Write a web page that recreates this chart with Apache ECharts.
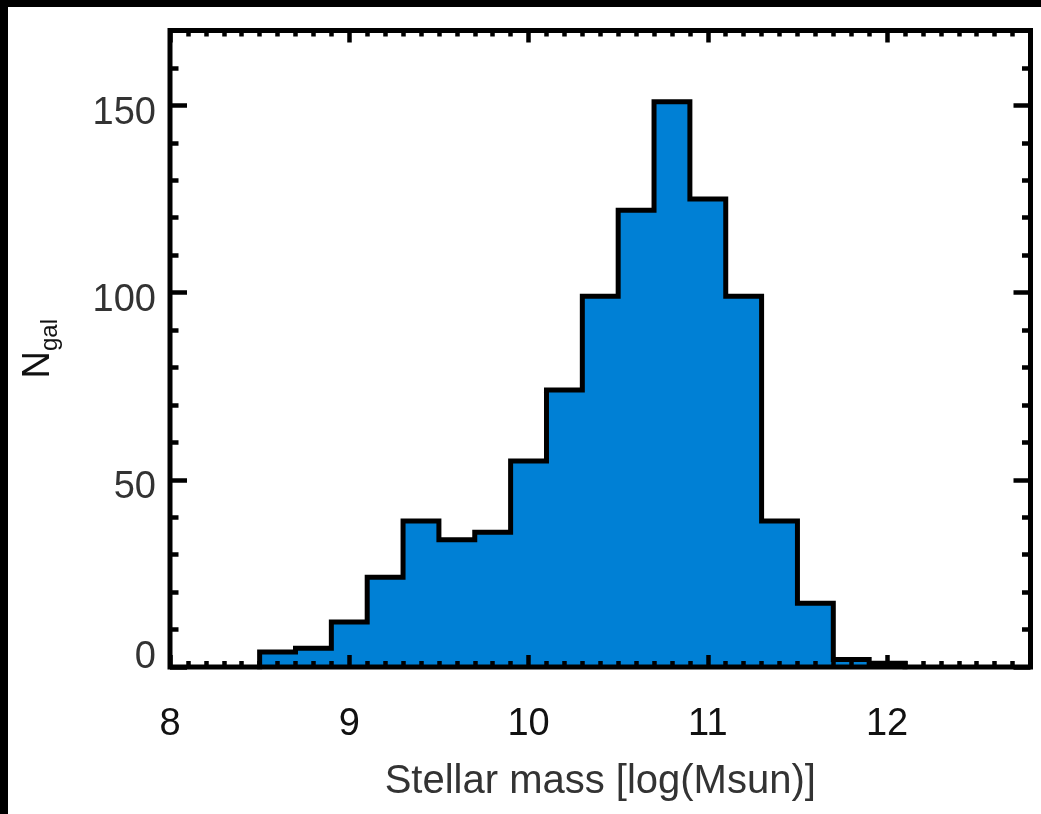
<!DOCTYPE html>
<html>
<head>
<meta charset="utf-8">
<script src="https://cdn.jsdelivr.net/npm/echarts@6/dist/echarts.min.js"></script>
<style>
  html, body { margin: 0; padding: 0; background: #000; width: 1041px; height: 814px; overflow: hidden; }
  #chart { position: absolute; left: 8px; top: 7px; width: 1033px; height: 807px; background: #fff; }
</style>
</head>
<body>
<div id="chart"></div>
<script>
// Histogram bin edges (log stellar mass) and galaxy counts per bin
const binEdges = [8.5, 8.7, 8.9, 9.1, 9.3, 9.5, 9.7, 9.9, 10.1, 10.3, 10.5, 10.7, 10.9, 11.1, 11.3, 11.5, 11.7, 11.9, 12.1];
const counts   = [4, 5, 12, 24, 39, 34, 36, 55, 74, 99, 122, 151, 125, 99, 39, 17, 2, 1];
const xTicks = [8, 9, 10, 11, 12];
const yTicks = [0, 50, 100, 150];
const xTitle = 'Stellar mass [log(Msun)]';
const yTitleMain = 'N';
const yTitleSub = 'gal';

// Build the step outline from the bins
const outline = [[binEdges[0], 0]];
for (let i = 0; i < counts.length; i++) {
  outline.push([binEdges[i], counts[i]]);
  outline.push([binEdges[i + 1], counts[i]]);
}
outline.push([binEdges[binEdges.length - 1], 0]);

const FONT = 'Liberation Sans, Arial, Helvetica, sans-serif';
const tickStyle = { color: '#000', width: 4.5 };

function xAxisDef(pos, major, withLabels) {
  return {
    type: 'value', position: pos, min: 8, max: 12.8,
    interval: major ? 1 : 0.1,
    axisLine: { show: false, onZero: false },
    splitLine: { show: false },
    axisTick: { show: true, inside: true, length: major ? 12 : 6, lineStyle: tickStyle },
    axisLabel: withLabels ? {
      show: true, showMaxLabel: false, margin: 39,
      fontSize: 38, fontFamily: FONT, color: '#111',
      formatter: v => (xTicks.indexOf(v) >= 0 ? String(v) : '')
    } : { show: false },
    name: withLabels ? xTitle : '',
    nameLocation: 'middle', nameGap: 95,
    nameTextStyle: { fontSize: 40, fontFamily: FONT, color: '#333' },
    z: 10
  };
}
function yAxisDef(pos, major, withLabels) {
  return {
    type: 'value', position: pos, min: 0, max: 170,
    interval: major ? 50 : 10,
    axisLine: { show: false, onZero: false },
    splitLine: { show: false },
    axisTick: { show: true, inside: true, length: major ? 17 : 8.5, lineStyle: tickStyle },
    axisLabel: withLabels ? {
      show: true, showMaxLabel: false, margin: 14,
      fontSize: 38, fontFamily: FONT, color: '#333',
      formatter: v => (yTicks.indexOf(v) < 0 ? '' : (v === 0 ? '{z|0}' : '{d|' + v + '}')),
      rich: {
        d: { fontSize: 38, fontFamily: FONT, color: '#333', padding: [16, 0, 0, 0] },
        z: { fontSize: 38, fontFamily: FONT, color: '#333', padding: [0, 0, 18, 0] }
      }
    } : { show: false },
    name: withLabels ? '{n|' + yTitleMain + '}{s|' + yTitleSub + '}' : '',
    nameLocation: 'middle', nameGap: 109,
    nameTextStyle: {
      rich: {
        n: { fontSize: 38, fontFamily: FONT, color: '#111', lineHeight: 44 },
        s: { fontSize: 24, fontFamily: FONT, color: '#111', lineHeight: 44, padding: [22, 0, 0, 0] }
      }
    },
    z: 10
  };
}

const chart = echarts.init(document.getElementById('chart'), null, { renderer: 'canvas' });
chart.setOption({
  animation: false,
  backgroundColor: '#fff',
  grid: {
    left: 161.5, top: 23.5, right: 10.5, bottom: 147,
    show: true, borderColor: '#000', borderWidth: 5, backgroundColor: 'transparent', z: 10
  },
  xAxis: [
    xAxisDef('bottom', true, true),
    xAxisDef('bottom', false, false),
    xAxisDef('top', true, false),
    xAxisDef('top', false, false)
  ],
  yAxis: [
    yAxisDef('left', true, true),
    yAxisDef('left', false, false),
    yAxisDef('right', true, false),
    yAxisDef('right', false, false)
  ],
  series: [{
    type: 'line',
    xAxisIndex: 0, yAxisIndex: 0,
    data: outline,
    symbol: 'none',
    lineStyle: { color: '#000', width: 5, join: 'miter', cap: 'square' },
    areaStyle: { color: '#0080d5', opacity: 1 },
    z: 2
  }]
});
</script>
</body>
</html>
